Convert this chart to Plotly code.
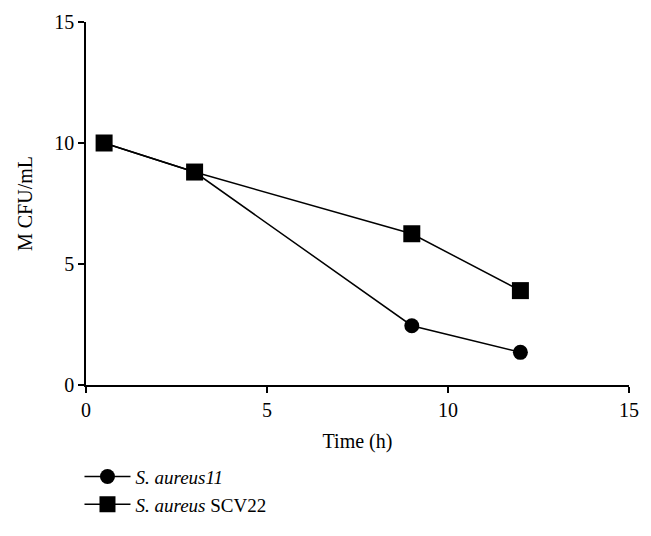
import plotly.graph_objects as go

time_h = [0.5, 3, 9, 12]
s_aureus11 = [10.0, 8.8, 2.45, 1.35]
s_aureus_scv22 = [10.0, 8.8, 6.25, 3.9]
x_ticks = [0, 5, 10, 15]
y_ticks = [0, 5, 10, 15]

font_family = "Liberation Serif, Times New Roman, serif"

fig = go.Figure()
fig.add_trace(go.Scatter(
    x=time_h, y=s_aureus11, mode="lines+markers",
    name="<i>S. aureus11</i>",
    line=dict(color="black", width=1.5),
    marker=dict(symbol="circle", size=15, color="black"),
))
fig.add_trace(go.Scatter(
    x=time_h, y=s_aureus_scv22, mode="lines+markers",
    name="<i>S. aureus</i> SCV22",
    line=dict(color="black", width=1.5),
    marker=dict(symbol="square", size=17, color="black"),
))

axis_common = dict(
    showgrid=False, zeroline=False, showline=True, linecolor="black",
    linewidth=1.5, ticks="outside", ticklen=6, tickwidth=1.5, tickcolor="black",
    tickfont=dict(family=font_family, size=20, color="black"),
    automargin=False,
)
fig.update_layout(
    width=643, height=528,
    margin=dict(l=78, r=22, t=14, b=151),
    paper_bgcolor="white", plot_bgcolor="white",
    font=dict(family=font_family, size=20, color="black"),
    xaxis=dict(range=[0, 15], tickvals=x_ticks,
               title=dict(text="Time (h)", font=dict(size=20), standoff=14),
               **axis_common),
    yaxis=dict(range=[0, 15], tickvals=y_ticks,
               title=dict(text="M CFU/mL", font=dict(size=20), standoff=16),
               **axis_common),
    legend=dict(x=-0.012, y=-0.2, xanchor="left", yanchor="top",
                font=dict(family=font_family, size=19, color="black"),
                tracegroupgap=0, itemwidth=46, bgcolor="rgba(0,0,0,0)"),
    showlegend=True,
)
fig.write_html("out.html")
